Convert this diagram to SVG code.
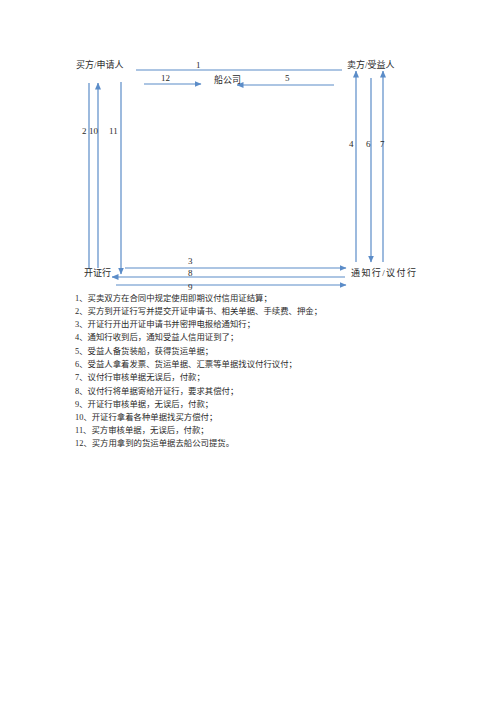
<svg xmlns="http://www.w3.org/2000/svg" width="496" height="702" viewBox="0 0 496 702">
<style>
text{font-family:"Liberation Serif","Noto Sans CJK SC",serif;fill:#2a2a2a}
.lbl{font-size:9px}
.num{font-size:9px}
.li{font-size:8.4px}
.c{stroke:#5b8cc8;stroke-width:1.2;fill:none}
</style>
<defs>
<marker id="ah" markerWidth="7" markerHeight="6" refX="6.5" refY="3" orient="auto" markerUnits="userSpaceOnUse">
<path d="M0,0 L7,3 L0,6 Z" fill="#5b8cc8"/>
</marker>
</defs>
<rect width="496" height="702" fill="#fff"/>
<g id="connectors">
<line class="c" x1="136" y1="70" x2="342" y2="70"/>
<line class="c" x1="144" y1="84" x2="201" y2="84" marker-end="url(#ah)"/>
<line class="c" x1="334" y1="85" x2="237" y2="85" marker-end="url(#ah)"/>
<line class="c" x1="89" y1="83" x2="89" y2="269"/>
<line class="c" x1="98" y1="268" x2="98" y2="83" marker-end="url(#ah)"/>
<line class="c" x1="121" y1="82" x2="121" y2="274" marker-end="url(#ah)"/>
<line class="c" x1="356" y1="262" x2="356" y2="71" marker-end="url(#ah)"/>
<line class="c" x1="371" y1="78" x2="371" y2="262" marker-end="url(#ah)"/>
<line class="c" x1="383" y1="262" x2="383" y2="71" marker-end="url(#ah)"/>
<line class="c" x1="125" y1="268" x2="346" y2="268" marker-end="url(#ah)"/>
<line class="c" x1="345" y1="277" x2="112" y2="277" marker-end="url(#ah)"/>
<line class="c" x1="116" y1="285" x2="346" y2="285" marker-end="url(#ah)"/>
<text class="num" x="196" y="68">1</text>
<text class="num" x="161" y="81">12</text>
<text class="num" x="285" y="81">5</text>
<text class="num" x="82" y="134">2</text>
<text class="num" x="89" y="134">10</text>
<text class="num" x="109" y="134">11</text>
<text class="num" x="349" y="147">4</text>
<text class="num" x="366" y="147">6</text>
<text class="num" x="380" y="147">7</text>
<text class="num" x="188" y="264">3</text>
<text class="num" x="188" y="276">8</text>
<text class="num" x="188" y="290">9</text>
</g>
<g id="buyer"><text class="lbl" x="76" y="68">买方/申请人</text></g>
<g id="seller"><text class="lbl" x="347" y="68">卖方/受益人</text></g>
<g id="shipping"><text class="lbl" x="214" y="83">船公司</text></g>
<g id="issuing-bank"><text class="lbl" x="84" y="276">开证行</text></g>
<g id="advising-bank"><text class="lbl" x="351" y="276" letter-spacing="1.4">通知行/议付行</text></g>
<g id="steps">
<text class="li" x="75" y="301">1、买卖双方在合同中规定使用即期议付信用证结算；</text>
<text class="li" x="75" y="314">2、买方到开证行写并提交开证申请书、相关单据、手续费、押金；</text>
<text class="li" x="75" y="327">3、开证行开出开证申请书并密押电报给通知行；</text>
<text class="li" x="75" y="340">4、通知行收到后，通知受益人信用证到了；</text>
<text class="li" x="75" y="354">5、受益人备货装船，获得货运单据；</text>
<text class="li" x="75" y="367">6、受益人拿着发票、货运单据、汇票等单据找议付行议付；</text>
<text class="li" x="75" y="380">7、议付行审核单据无误后，付款；</text>
<text class="li" x="75" y="394">8、议付行将单据寄给开证行，要求其偿付；</text>
<text class="li" x="75" y="407">9、开证行审核单据，无误后，付款；</text>
<text class="li" x="75" y="420">10、开证行拿着各种单据找买方偿付；</text>
<text class="li" x="75" y="433">11、买方审核单据，无误后，付款；</text>
<text class="li" x="75" y="446">12、买方用拿到的货运单据去船公司提货。</text>
</g>
</svg>
